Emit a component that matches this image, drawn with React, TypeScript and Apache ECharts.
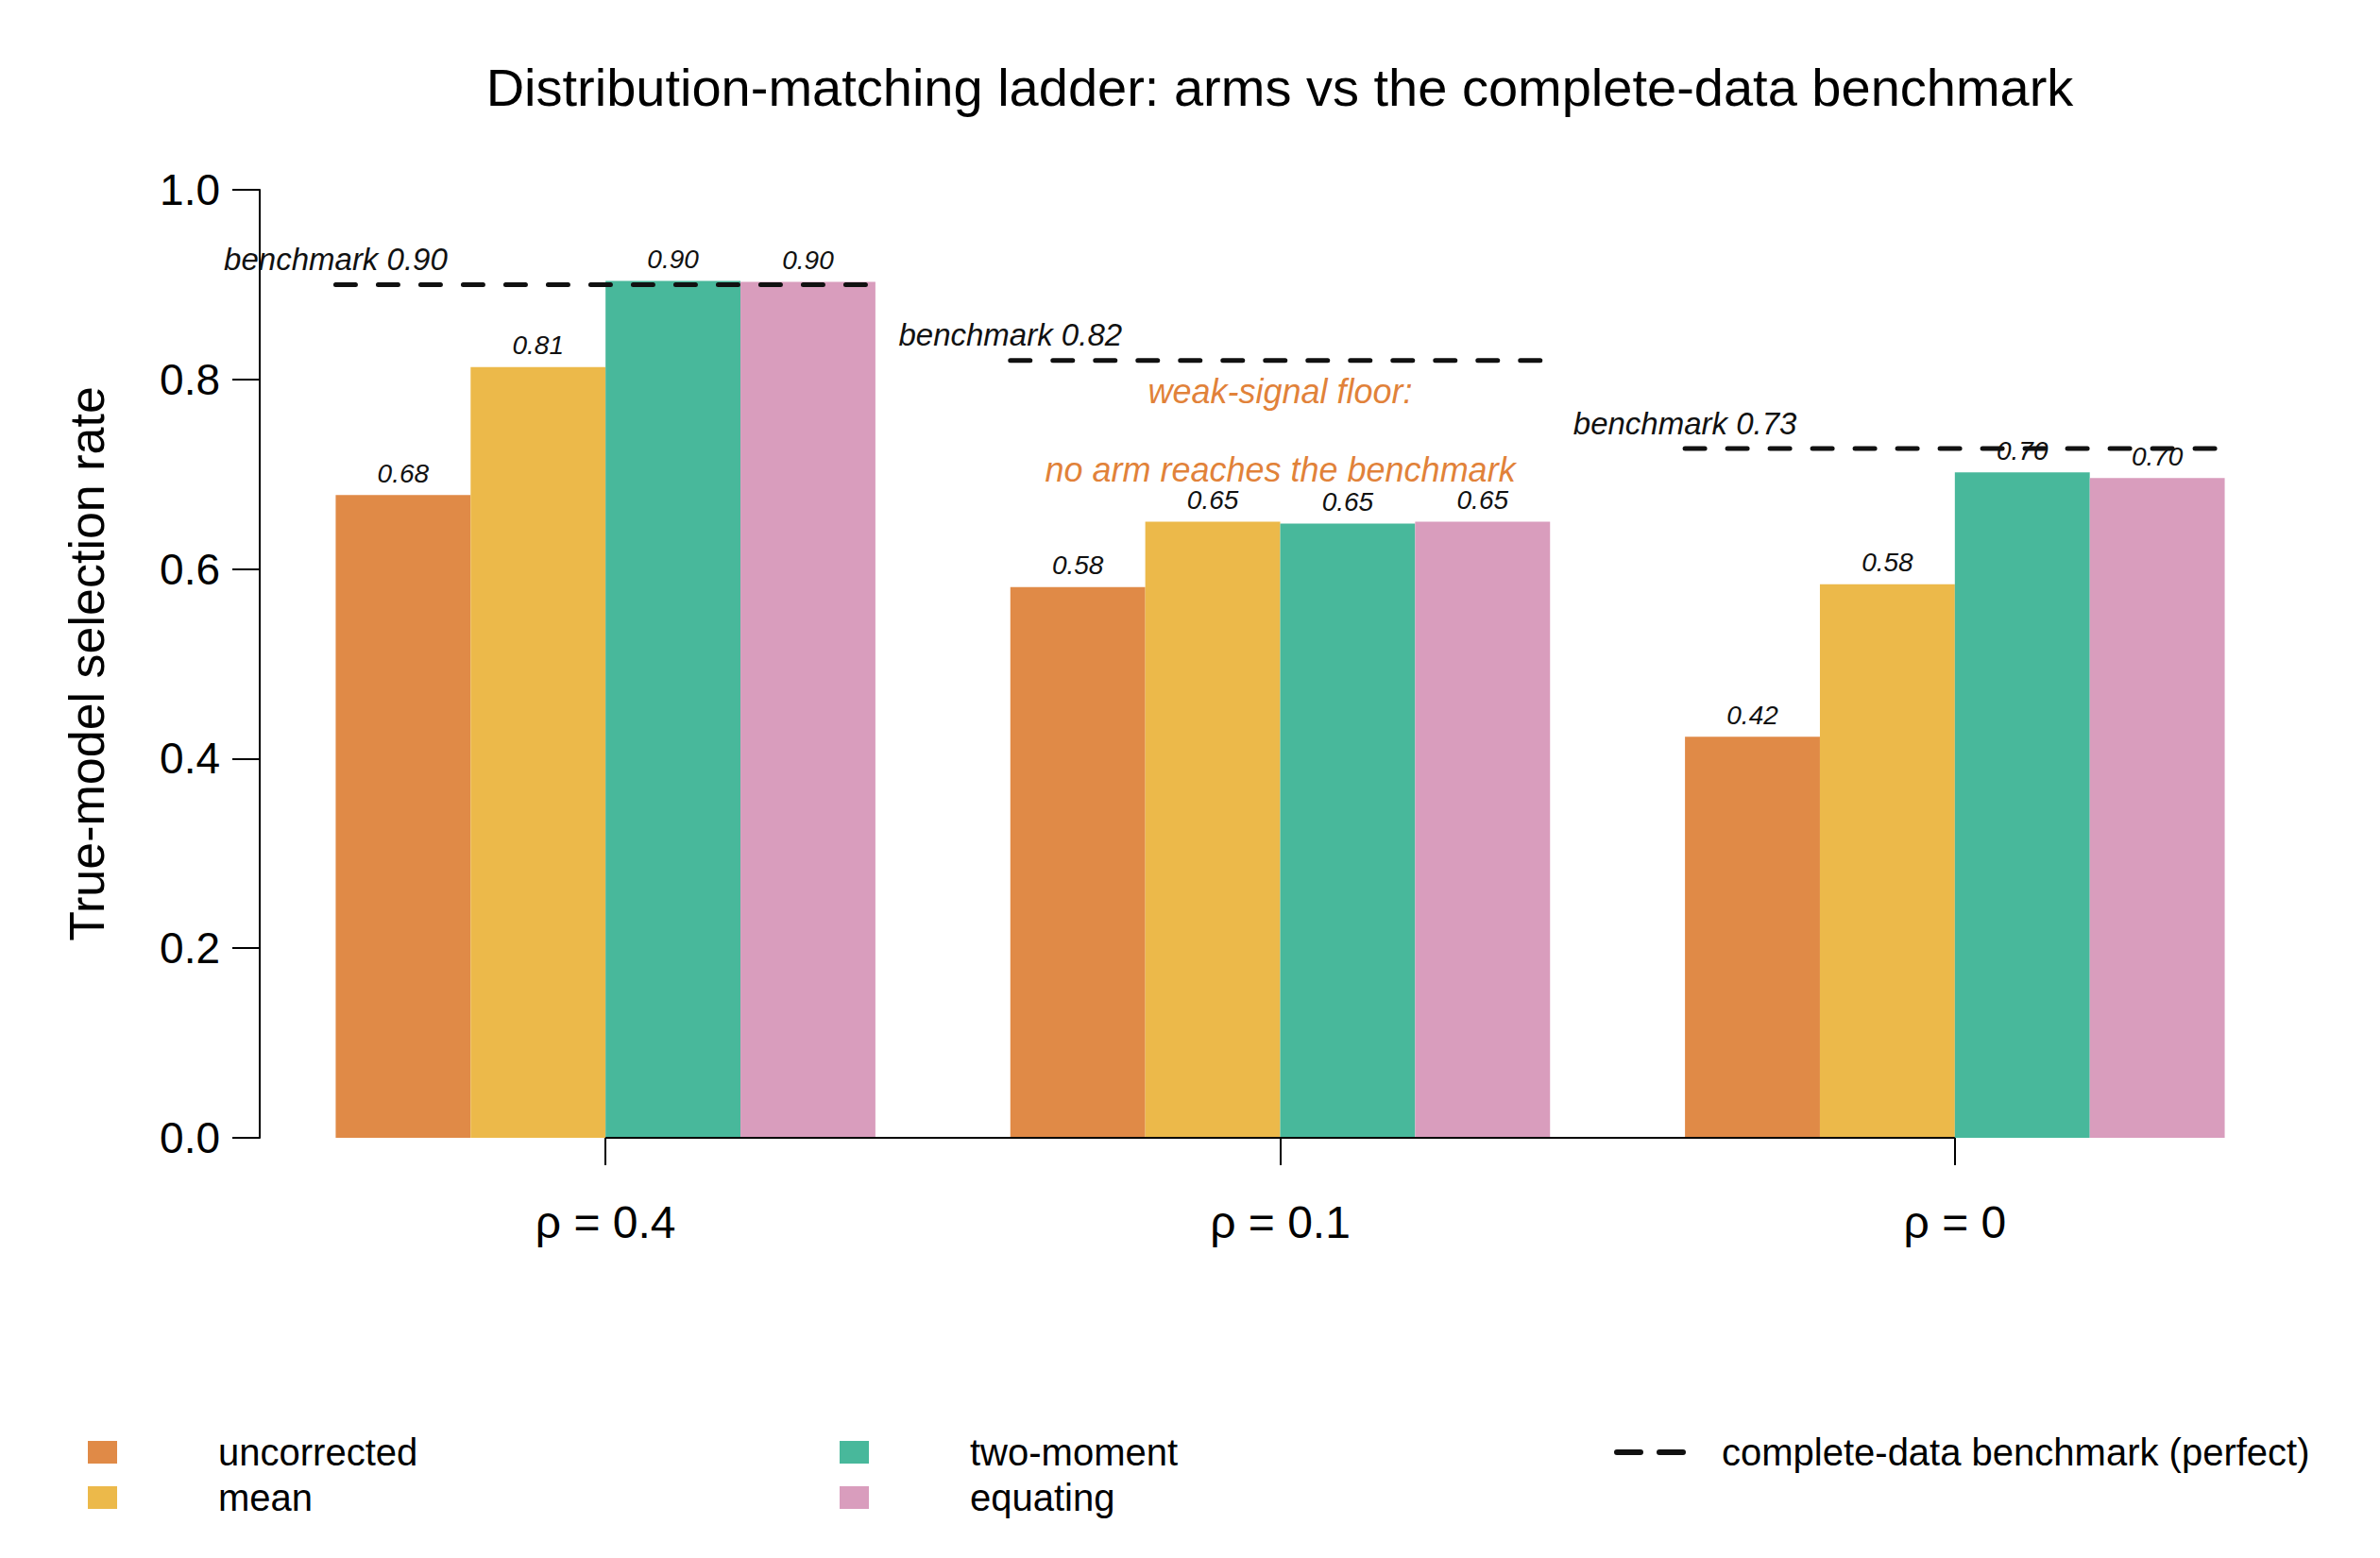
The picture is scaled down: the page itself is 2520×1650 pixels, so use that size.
import React, { useEffect, useRef } from 'react';
import * as echarts from 'echarts';

const categories = ['ρ = 0.4', 'ρ = 0.1', 'ρ = 0'];
const armNames = ['uncorrected', 'mean', 'two-moment', 'equating'];
const uncorrected = [0.678, 0.581, 0.423];
const meanArm = [0.813, 0.65, 0.584];
const twoMoment = [0.904, 0.648, 0.702];
const equating = [0.903, 0.65, 0.696];
const benchmark = [0.9, 0.82, 0.727];
const benchmarkName = 'complete-data benchmark (perfect)';
const annotationTexts = ['weak-signal floor:', 'no arm reaches the benchmark'];
const annotationY = [0.787, 0.705];
const annotationCategory = 'ρ = 0.1';
const yMin = 0;
const yMax = 1;
const yStep = 0.2;

const armColors = ['#E08A47', '#ECB94A', '#48B89B', '#D99DBD'];
const FONT = '"Liberation Sans", Arial, Helvetica, sans-serif';

export default function App() {
  const ref = useRef<HTMLDivElement>(null);

  useEffect(() => {
    if (!ref.current) return;
    const chart = echarts.init(ref.current, null, { renderer: 'svg' });
    const armData = [uncorrected, meanArm, twoMoment, equating];

    const barSeries: any[] = armNames.map((name, i) => ({
      name,
      type: 'bar',
      data: armData[i],
      barGap: '0%',
      barCategoryGap: '20%',
      itemStyle: { color: armColors[i] },
      z: 2,
      label: {
        show: true,
        position: 'top',
        distance: 9,
        formatter: (p: any) => Number(p.value).toFixed(2),
        fontSize: 28,
        fontStyle: 'italic',
        fontFamily: FONT,
        color: '#111',
      },
    }));

    const benchSeries = {
      name: benchmarkName,
      type: 'custom',
      z: 3,
      itemStyle: { color: '#111' },
      data: benchmark.map((v, i) => [i, v]),
      renderItem: (params: any, api: any) => {
        const idx = api.value(0);
        const v = api.value(1);
        const p = api.coord([idx, v]);
        const bw = api.size([1, 0])[0];
        const half = bw * 0.4;
        return {
          type: 'group',
          children: [
            {
              type: 'line',
              shape: { x1: p[0] - half, y1: p[1], x2: p[0] + half, y2: p[1] },
              style: { stroke: '#111', lineWidth: 5, lineDash: [21, 24], lineCap: 'round' },
            },
            {
              type: 'text',
              x: p[0] - half,
              y: p[1] - 27,
              style: {
                text: 'benchmark ' + Number(v).toFixed(2),
                font: 'italic 33px ' + FONT,
                fill: '#111',
                align: 'center',
                verticalAlign: 'middle',
              },
            },
          ],
        };
      },
    };

    const annotSeries = {
      name: 'annotation',
      type: 'scatter',
      symbolSize: 1,
      itemStyle: { color: 'rgba(0,0,0,0)' },
      silent: true,
      z: 7,
      data: annotationTexts.map((t, i) => ({ name: t, value: [annotationCategory, annotationY[i]] })),
      label: {
        show: true,
        position: 'inside',
        formatter: (p: any) => p.name,
        fontSize: 36,
        fontStyle: 'italic',
        fontFamily: FONT,
        color: '#D95F02',
      },
      // x axis line drawn between first and last category centres (R-style)
      markLine: {
        silent: true,
        symbol: 'none',
        label: { show: false },
        lineStyle: { color: '#000', width: 2, type: 'solid' },
        data: [[{ coord: [categories[0], 0] }, { coord: [categories[categories.length - 1], 0] }]],
      },
    };

    const legendCommon = {
      orient: 'vertical',
      top: 1518,
      padding: 0,
      itemGap: 8,
      itemWidth: 31,
      itemHeight: 24,
      icon: 'rect',
      selectedMode: false,
      textStyle: {
        fontSize: 40,
        lineHeight: 40,
        fontFamily: FONT,
        color: '#000',
        padding: [0, 0, 0, 102],
      },
    };

    const option: any = {
      animation: false,
      backgroundColor: '#fff',
      title: {
        text: 'Distribution-matching ladder: arms vs the complete-data benchmark',
        left: 1350,
        top: 59,
        textAlign: 'center',
        textStyle: { fontSize: 56, fontWeight: 'normal', color: '#000', fontFamily: FONT },
      },
      grid: { left: 284, right: 93, top: 201, bottom: 445, containLabel: false },
      legend: [
        { ...legendCommon, left: 93, data: [armNames[0], armNames[1]] },
        { ...legendCommon, left: 889, data: [armNames[2], armNames[3]] },
        {
          ...legendCommon,
          left: 1709,
          itemWidth: 76,
          itemHeight: 6,
          data: [
            {
              name: benchmarkName,
              icon: 'path://M3,0 H28 A3,3 0 0 1 28,6 H3 A3,3 0 0 1 3,0 Z M48,0 H73 A3,3 0 0 1 73,6 H48 A3,3 0 0 1 48,0 Z',
              itemStyle: { color: '#111' },
            },
          ],
          textStyle: { ...legendCommon.textStyle, padding: [0, 0, 0, 33] },
        },
      ],
      xAxis: {
        type: 'category',
        data: categories,
        axisLine: { show: false },
        axisTick: { show: true, alignWithLabel: true, length: 29, lineStyle: { color: '#000', width: 2 } },
        axisLabel: { margin: 65, fontSize: 48, color: '#000', fontFamily: FONT },
        splitLine: { show: false },
      },
      yAxis: {
        type: 'value',
        min: yMin,
        max: yMax,
        interval: yStep,
        offset: 9,
        name: 'True-model selection rate',
        nameLocation: 'middle',
        nameGap: 157,
        nameTextStyle: { fontSize: 52, color: '#000', fontFamily: FONT },
        axisLine: { show: true, lineStyle: { color: '#000', width: 2 } },
        axisTick: { show: true, length: 29, lineStyle: { color: '#000', width: 2 } },
        axisLabel: {
          margin: 42,
          fontSize: 46,
          color: '#000',
          fontFamily: FONT,
          formatter: (v: number) => v.toFixed(1),
        },
        splitLine: { show: false },
      },
      series: [...barSeries, benchSeries, annotSeries],
    };

    chart.setOption(option);
    return () => chart.dispose();
  }, []);

  return (
    <div
      ref={ref}
      style={{ position: 'fixed', left: 0, top: 0, width: 2520, height: 1650, background: '#fff' }}
    />
  );
}
